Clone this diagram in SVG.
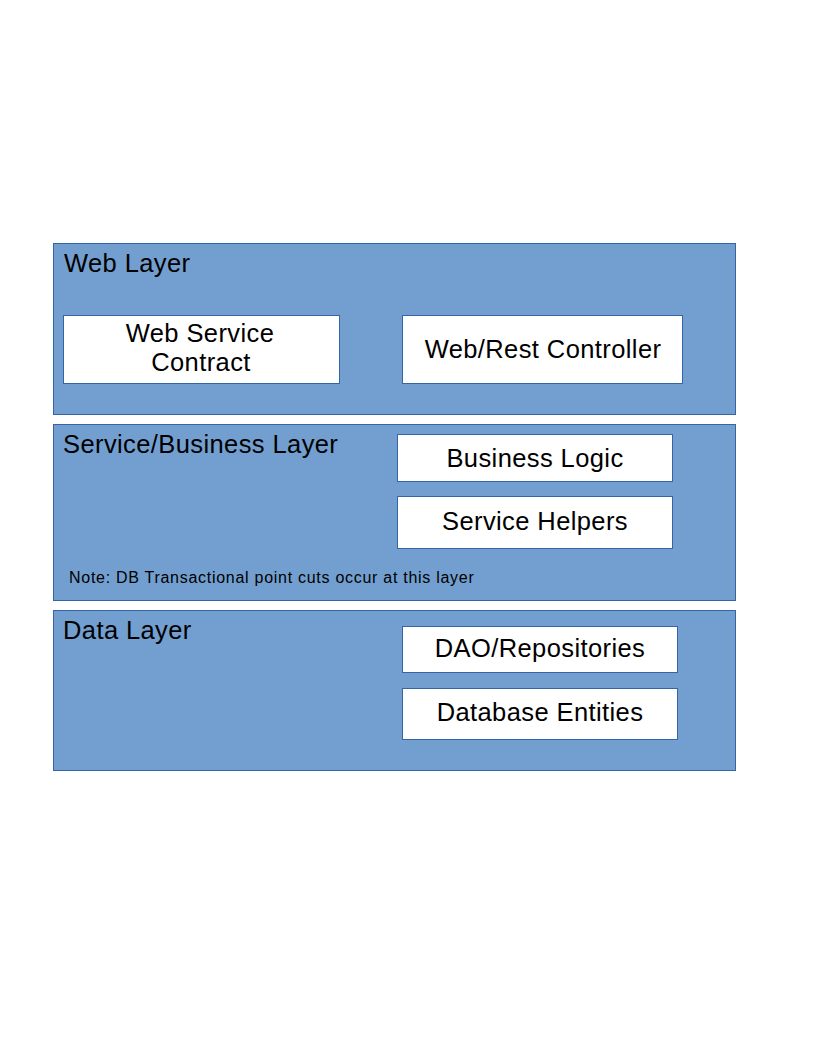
<svg xmlns="http://www.w3.org/2000/svg" width="816" height="1056" viewBox="0 0 816 1056">
<style>
.layer{fill:#729fcf;stroke:#3465a4;stroke-width:1}
.box{fill:#ffffff;stroke:#3465a4;stroke-width:1}
text{font-family:"Liberation Sans",Arial,sans-serif;fill:#000000}
.big{font-size:25.5px;letter-spacing:0.4px}
.mid{text-anchor:middle}
.note{font-size:16px;letter-spacing:0.72px}
</style>
<rect width="816" height="1056" fill="#ffffff"/>
<g id="web-layer">
<rect class="layer" x="53.5" y="243.5" width="682" height="171"/>
<text class="big" x="64" y="272">Web Layer</text>
</g>
<g id="web-service-contract">
<rect class="box" x="63.5" y="315.5" width="276" height="68"/>
<text class="big mid" x="200" y="342">Web Service </text>
<text class="big mid" x="201" y="371">Contract</text>
</g>
<g id="web-rest-controller">
<rect class="box" x="402.5" y="315.5" width="280" height="68"/>
<text class="big mid" x="543" y="358">Web/Rest Controller</text>
</g>
<g id="service-layer">
<rect class="layer" x="53.5" y="424.5" width="682" height="176"/>
<text class="big" x="63" y="453">Service/Business Layer</text>
<text class="note" x="69" y="583">Note: DB Transactional point cuts occur at this layer</text>
</g>
<g id="business-logic">
<rect class="box" x="397.5" y="434.5" width="275" height="47"/>
<text class="big mid" x="535" y="467">Business Logic</text>
</g>
<g id="service-helpers">
<rect class="box" x="397.5" y="496.5" width="275" height="52"/>
<text class="big mid" x="535" y="530">Service Helpers</text>
</g>
<g id="data-layer">
<rect class="layer" x="53.5" y="610.5" width="682" height="160"/>
<text class="big" x="63" y="639">Data Layer</text>
</g>
<g id="dao-repositories">
<rect class="box" x="402.5" y="626.5" width="275" height="46"/>
<text class="big mid" x="540" y="657">DAO/Repositories</text>
</g>
<g id="database-entities">
<rect class="box" x="402.5" y="688.5" width="275" height="51"/>
<text class="big mid" x="540" y="721">Database Entities</text>
</g>
<g id="connectors"></g>
</svg>
